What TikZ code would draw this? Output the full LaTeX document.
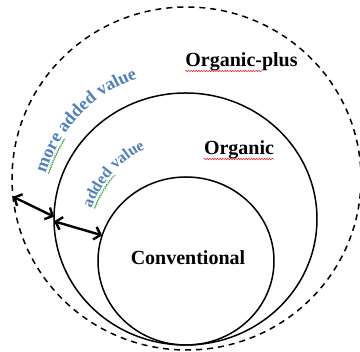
\documentclass[tikz,border=0pt]{standalone}
\usepackage{fontspec}
\setmainfont{Liberation Serif}
\usepackage{tikz}
\usetikzlibrary{positioning,arrows.meta,shapes.geometric,decorations.text,decorations.pathmorphing}
\definecolor{valor}{RGB}{79,129,189}
\definecolor{rojo}{RGB}{230,45,45}
\definecolor{verde}{RGB}{50,170,50}

\begin{document}
\begin{tikzpicture}[x=1pt, y=1pt,
  ring/.style={ellipse, draw=black, line width=1.5pt, inner sep=0pt, outer sep=0pt},
  lbl/.style={font=\bfseries\fontsize{20}{24}\selectfont, anchor=base, inner sep=0pt},
  gap/.style={{Straight Barb[length=6pt,width=13pt]}-{Straight Barb[length=6pt,width=13pt]}, line width=2.4pt},
  squig/.style={decorate, decoration={snake, amplitude=0.7pt, segment length=2.6pt}, line width=0.6pt},
]
\useasboundingbox (0,0) rectangle (360,352);
\node[ring, dash pattern=on 6pt off 5pt, minimum width=349pt, minimum height=343pt] (plus) at (186.5,173.5) {};
\node[ring, minimum width=263pt, minimum height=252pt] (org) at (185.5,133) {};
\node[ring, minimum width=176pt, minimum height=168pt] (conv) at (186,91) {};

\node[lbl] (plustxt) at (241.5,285) {Organic-plus};
\node[lbl] (orgtxt) at (239,197) {Organic};
\node[lbl] (convtxt) at (188,87) {Conventional};

\draw[squig, rojo] ([yshift=-4pt]plustxt.base west) -- ++(77,0);
\draw[squig, rojo] ([yshift=-4pt]orgtxt.base west) -- ([yshift=-4pt]orgtxt.base east);

\path[decorate, decoration={text along path, text align=center, text color=valor,
  text={|\bfseries\fontsize{18}{21}\selectfont|more added value}}]
  (186,135) ++(166:147) arc[start angle=166, end angle=106, radius=147];
\path[decorate, decoration={text along path, text align=center, text color=valor,
  text={|\bfseries\fontsize{16}{19}\selectfont|added value}}]
  (192,107) ++(168:107) arc[start angle=168, end angle=108, radius=107];
\draw[squig, verde] (186,135) ++(162.5:144) arc[start angle=162.5, end angle=147, radius=144];
\draw[squig, verde] (192,107) ++(159.5:104) arc[start angle=159.5, end angle=137.5, radius=104];

\draw[gap] (plus.186) -- (org.179);
\draw[gap] (org.181) -- (conv.163);
\end{tikzpicture}
\end{document}
